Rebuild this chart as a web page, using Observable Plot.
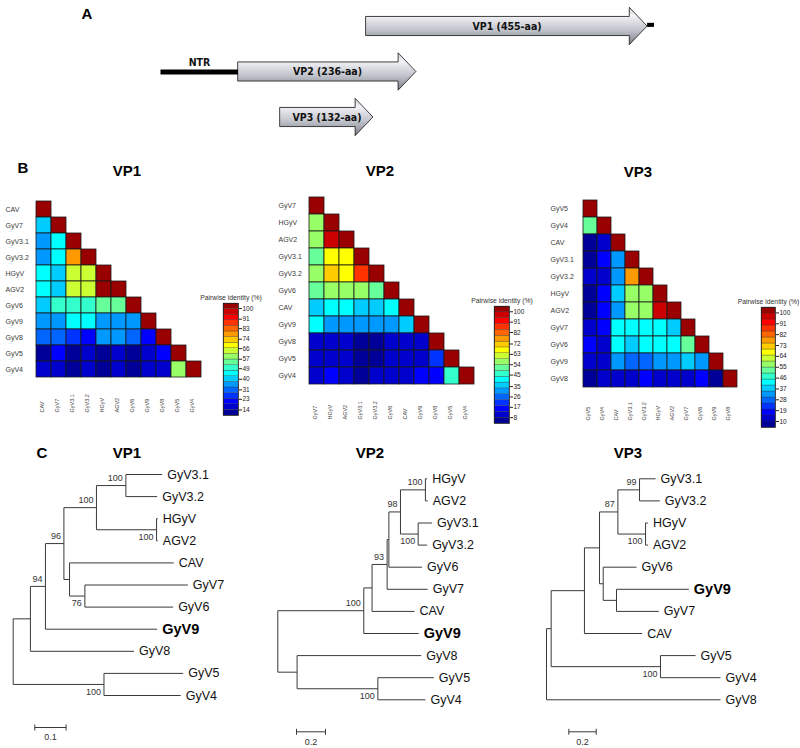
<!DOCTYPE html>
<html>
<head>
<meta charset="utf-8">
<script src="https://cdn.jsdelivr.net/npm/d3@7"></script>
<script src="https://cdn.jsdelivr.net/npm/@observablehq/plot@0.6"></script>
<style>
  body { margin: 0; background: #fff; }
  #fig { position: relative; width: 800px; height: 748px; overflow: hidden; background: #fff; }
</style>
</head>
<body>
<div id="fig"></div>
<script>
// ======================= DATA =======================
// ---- Panel A: genome schematic (schematic positions, 0..100)
const geneNames = ["VP1 (455-aa)", "VP2 (236-aa)", "VP3 (132-aa)"];
const geneStart = [41.7, 15.8, 24.3];
const geneEnd   = [98.6, 51.8, 43.1];
const geneTrack = [1, 2, 3];
const ntrLabel = "NTR";
const ntrSpan = [0, 15.8];       // non-translated region, on track 2
const vp1Tail = [98.6, 100];     // short terminal segment after VP1

// ---- Panel B: pairwise identity (%) lower triangles
const vp1Order = ["CAV", "GyV7", "GyV3.1", "GyV3.2", "HGyV", "AGV2", "GyV6", "GyV9", "GyV8", "GyV5", "GyV4"];
const vp1Identity = [
  [100],
  [40, 100],
  [36, 44, 100],
  [36, 45, 79, 100],
  [44, 42, 64, 64, 100],
  [44, 41, 64, 64, 100, 100],
  [42, 51, 48, 51, 54, 54, 100],
  [35, 35, 43, 43, 34, 34, 35, 100],
  [30, 29, 26, 22, 34, 34, 30, 22, 100],
  [11, 20, 11, 15, 12, 15, 12, 15, 21, 100],
  [15, 16, 12, 15, 12, 15, 12, 15, 17, 58, 100]
];
const vp1LegendTicks = [100, 91, 83, 74, 66, 57, 49, 40, 31, 23, 14];

const vp2Order = ["GyV7", "HGyV", "AGV2", "GyV3.1", "GyV3.2", "GyV6", "CAV", "GyV9", "GyV8", "GyV5", "GyV4"];
const vp2Identity = [
  [100],
  [56, 100],
  [57, 97, 100],
  [51, 67, 67, 100],
  [56, 72, 67, 87, 100],
  [50, 56, 56, 56, 49, 100],
  [37, 42, 41, 36, 36, 42, 100],
  [42, 31, 31, 30, 31, 33, 37, 100],
  [12, 10, 10, 7.5, 7.5, 10, 12, 9, 100],
  [11, 8.5, 10, 7.5, 6, 11, 11, 11, 20, 100],
  [10, 15, 12, 7.5, 12, 11, 12, 14, 14, 47, 100]
];
const vp2LegendTicks = [100, 91, 82, 72, 63, 54, 45, 35, 26, 17, 8];

const vp3Order = ["GyV5", "GyV4", "CAV", "GyV3.1", "GyV3.2", "HGyV", "AGV2", "GyV7", "GyV6", "GyV9", "GyV8"];
const vp3Identity = [
  [100],
  [51, 100],
  [9, 12, 100],
  [9, 16, 31, 100],
  [11, 14, 32, 77, 100],
  [9, 16, 37, 57, 57, 100],
  [9, 16, 32, 57, 57, 96, 100],
  [14, 16, 42, 43, 43, 43, 38, 100],
  [17, 12, 42, 38, 42, 41, 41, 51, 100],
  [14, 14, 31, 27, 26, 31, 31, 37, 34, 100],
  [9, 10.5, 12, 13, 15.5, 13, 13, 12, 17, 9, 100]
];
const vp3LegendTicks = [100, 91, 82, 73, 64, 55, 46, 37, 28, 19, 10];

// ---- Panel C: phylogenetic trees (preorder; parent; branch length; bootstrap)
const vp1TreeNodes   = ["root", "nU", "n94", "n96", "n100a", "n31", "GyV3.1", "GyV3.2", "nHA", "HGyV", "AGV2", "nC", "CAV", "n76", "GyV7", "GyV6", "GyV9", "GyV8", "n45", "GyV5", "GyV4"];
const vp1TreeParents = [null, "root", "nU", "n94", "n96", "n100a", "n31", "n31", "n100a", "nHA", "nHA", "n96", "nC", "nC", "n76", "n76", "n94", "nU", "root", "n45", "n45"];
const vp1TreeLengths = [0, 0.055, 0.048, 0.059, 0.104, 0.094, 0.116, 0.100, 0.192, 0.004, 0.004, 0.018, 0.333, 0.049, 0.329, 0.282, 0.357, 0.331, 0.290, 0.253, 0.245];
const vp1TreeSupport = ["", "", "94", "96", "100", "100", "", "", "100", "", "", "", "", "76", "", "", "", "", "100", "", ""];

const vp2TreeNodes   = ["root", "n100", "n305", "n93", "n6", "n98", "nHA", "HGyV", "AGV2", "nG3", "GyV3.1", "GyV3.2", "GyV6", "GyV7", "CAV", "GyV9", "nOut", "GyV8", "n54", "GyV5", "GyV4"];
const vp2TreeParents = [null, "root", "n100", "n305", "n93", "n6", "n98", "nHA", "nHA", "n98", "nG3", "nG3", "n6", "n93", "n305", "n100", "root", "nOut", "nOut", "n54", "n54"];
const vp2TreeLengths = [0, 0.593, 0.057, 0.104, 0.012, 0.080, 0.172, 0.012, 0.016, 0.122, 0.096, 0.062, 0.229, 0.280, 0.293, 0.379, 0.133, 0.856, 0.557, 0.386, 0.328];
const vp2TreeSupport = ["", "100", "", "93", "", "98", "100", "", "", "100", "", "", "", "", "", "", "", "", "100", "", ""];

const vp3TreeNodes   = ["root", "n62", "n162", "n207", "n262", "n327", "GyV3.1", "GyV3.2", "n345", "HGyV", "AGV2", "n218", "GyV6", "n258", "GyV9", "GyV7", "CAV", "n390", "GyV5", "GyV4", "GyV8"];
const vp3TreeParents = [null, "root", "n62", "n162", "n207", "n262", "n327", "n327", "n262", "n345", "n345", "n207", "n218", "n218", "n258", "n258", "n162", "n62", "n390", "n390", "root"];
const vp3TreeLengths = [0, 0.034, 0.243, 0.110, 0.134, 0.158, 0.117, 0.148, 0.202, 0.017, 0.017, 0.027, 0.243, 0.097, 0.528, 0.309, 0.421, 0.798, 0.256, 0.438, 1.270];
const vp3TreeSupport = ["", "", "", "", "87", "99", "", "", "100", "", "", "", "", "", "", "", "", "100", "", "", ""];

const treeScaleLengths = [0.1, 0.2, 0.2];
const highlightLeaf = "GyV9";

// ======================= HELPERS =======================
const FONT = "'Liberation Sans', Arial, Helvetica, sans-serif";
const NARROW = "'Liberation Sans Narrow', 'Arial Narrow', 'DejaVu Sans Condensed', sans-serif";
const fig = document.getElementById("fig");
const baseStyle = {fontFamily: FONT, background: "transparent", overflow: "visible"};

function place(node, left, top) {
  node.style.position = "absolute";
  node.style.left = left + "px";
  node.style.top = top + "px";
  fig.appendChild(node);
  return node;
}
function label(text, x, y, size) {
  const d = document.createElement("div");
  d.textContent = text;
  d.style.cssText = `position:absolute;left:${x}px;top:${y}px;transform:translate(-50%,-50%);` +
    `font-family:${FONT};font-weight:bold;font-size:${size}px;line-height:1;white-space:nowrap;color:#000;`;
  fig.appendChild(d);
}
function jet(t) {
  const c = v => Math.max(0, Math.min(1, v));
  const r = c(1.5 - Math.abs(4 * t - 3)), g = c(1.5 - Math.abs(4 * t - 2)), b = c(1.5 - Math.abs(4 * t - 1));
  return d3.rgb(r * 255, g * 255, b * 255).formatHex();
}
const NBINS = 20;
function binColor(v, lo, hi) {
  let k = Math.floor((v - lo) / (hi - lo) * NBINS);
  k = Math.max(0, Math.min(NBINS - 1, k));
  return jet((k + 0.5) / NBINS);
}

// ======================= PANEL A =======================
const HEAD = 3.6, BODY = 0.21, HEADW = 0.41;
const arrowPts = geneNames.flatMap((name, i) => {
  const s = geneStart[i], e = geneEnd[i], t = geneTrack[i];
  return [
    {name, x: s, lo: t - BODY, hi: t + BODY},
    {name, x: e - HEAD, lo: t - BODY, hi: t + BODY},
    {name, x: e - HEAD, lo: t - HEADW, hi: t + HEADW},
    {name, x: e, lo: t, hi: t}
  ];
});
const svgA = Plot.plot({
  width: 800, height: 145, margin: 0, style: baseStyle,
  x: {domain: [0, 100], range: [160, 654], axis: null},
  y: {domain: [1, 3], range: [26, 117], axis: null},
  marks: [
    Plot.link([ntrSpan], {x1: d => d[0], x2: d => d[1], y1: () => 2, y2: () => 2, stroke: "#000", strokeWidth: 5}),
    Plot.areaY(arrowPts, {x: "x", y1: "lo", y2: "hi", z: "name", fill: "url(#gradA)", stroke: "#111", strokeWidth: 0.8, curve: "linear"}),
    Plot.rect([vp1Tail], {x1: d => d[0], x2: d => d[1], y1: () => 0.93, y2: () => 1.02, fill: "#000"}),
    Plot.text(geneNames, {x: (d, i) => (geneStart[i] + geneEnd[i]) / 2, y: (d, i) => geneTrack[i], text: d => d,
      fontFamily: NARROW, fontWeight: "bold", fontSize: 10.5, fill: "#111"}),
    Plot.text([ntrLabel], {x: () => (ntrSpan[0] + ntrSpan[1]) / 2, y: () => 2, dy: -9, text: d => d,
      fontFamily: NARROW, fontWeight: "bold", fontSize: 10.5, fill: "#111"})
  ]
});
const defs = document.createElementNS("http://www.w3.org/2000/svg", "defs");
defs.innerHTML = '<linearGradient id="gradA" x1="0" y1="0" x2="0" y2="1">' +
  '<stop offset="0" stop-color="#cfd1d8"/><stop offset="0.22" stop-color="#f3f3f6"/>' +
  '<stop offset="0.6" stop-color="#c3c5cd"/><stop offset="1" stop-color="#7c7f89"/></linearGradient>';
svgA.insertBefore(defs, svgA.firstChild);
place(svgA, 0, 0);
label("A", 87, 13, 15);

// ======================= PANEL B =======================
function drawHeatmap(cfg) {
  const {order, identity, ticks, cellsLeft, cellsTop, cellW, cellH, colLabelBottom, box} = cfg;
  const n = order.length;
  const step = (ticks[0] - ticks[ticks.length - 1]) / (ticks.length - 1);
  const hi = ticks[0] + step / 2, lo = ticks[ticks.length - 1] - step * 0.55;
  const cells = identity.flatMap((row, i) => row.map((v, j) => ({row: order[i], col: order[j], v})));
  const gridW = n * cellW, gridH = n * cellH;
  const mL = 34, mT = 2, mR = 2;
  const labelDy = colLabelBottom - (cellsTop + gridH);
  const mB = labelDy + 4;
  const svg = Plot.plot({
    width: mL + gridW + mR, height: mT + gridH + mB,
    marginLeft: mL, marginTop: mT, marginRight: mR, marginBottom: mB,
    style: baseStyle,
    x: {type: "band", domain: order, padding: 0, axis: null},
    y: {type: "band", domain: order, padding: 0, axis: null},
    color: {type: "identity"},
    marks: [
      Plot.cell(cells, {x: "col", y: "row", fill: d => binColor(d.v, lo, hi), stroke: "#1b1b1b", strokeWidth: 0.8, inset: 0}),
      Plot.text(order, {y: d => d, text: d => d, frameAnchor: "left", dx: -31, textAnchor: "start", fontSize: 7, fill: "#3a3a3a"}),
      Plot.text(order, {x: d => d, text: d => d, frameAnchor: "bottom", dy: labelDy, rotate: -90, textAnchor: "start", fontSize: 5.5, fill: "#444"})
    ]
  });
  place(svg, cellsLeft - mL, cellsTop - mT);

  // colour key
  const bins = d3.range(NBINS).map(k => ({y1: lo + k * (hi - lo) / NBINS, y2: lo + (k + 1) * (hi - lo) / NBINS, c: jet((k + 0.5) / NBINS)}));
  const lmL = 32, lmR = 32, lmT = 16, lmB = 3;
  const bw = box.right - box.left, bh = box.bottom - box.top;
  const lsvg = Plot.plot({
    width: lmL + bw + lmR, height: lmT + bh + lmB,
    marginLeft: lmL, marginRight: lmR, marginTop: lmT, marginBottom: lmB,
    style: baseStyle,
    x: {domain: [0, 1], axis: null},
    y: {domain: [lo, hi], axis: null},
    color: {type: "identity"},
    marks: [
      Plot.rect(bins, {x1: () => 0, x2: () => 1, y1: "y1", y2: "y2", fill: "c", stroke: "#333", strokeWidth: 0.3}),
      Plot.frame({stroke: "#222", strokeWidth: 0.8}),
      Plot.axisY(ticks, {anchor: "right", tickSize: 3, tickPadding: 1, fontSize: 6.5, tickFormat: d => String(d), label: null, stroke: "#222", fill: "#222"}),
      Plot.text(["Pairwise identity (%)"], {frameAnchor: "top", dy: -8, text: d => d, fontSize: 6.8, fill: "#333"})
    ]
  });
  place(lsvg, box.left - lmL, box.top - lmT);
}

drawHeatmap({order: vp1Order, identity: vp1Identity, ticks: vp1LegendTicks,
  cellsLeft: 36, cellsTop: 199, cellW: 15, cellH: 16.45, colLabelBottom: 412,
  box: {left: 223, right: 238, top: 303, bottom: 415}});
drawHeatmap({order: vp2Order, identity: vp2Identity, ticks: vp2LegendTicks,
  cellsLeft: 309, cellsTop: 197, cellW: 15, cellH: 17.07, colLabelBottom: 419,
  box: {left: 494, right: 509, top: 306, bottom: 423}});
drawHeatmap({order: vp3Order, identity: vp3Identity, ticks: vp3LegendTicks,
  cellsLeft: 581, cellsTop: 199, cellW: 14.4, cellH: 17.1, colLabelBottom: 420,
  box: {left: 761, right: 775, top: 307, bottom: 427}});
label("B", 23, 167, 15);
label("VP1", 127, 170, 15);
label("VP2", 380, 170, 15);
label("VP3", 638, 171, 15);

// ======================= PANEL C =======================
function drawTree(cfg) {
  const {nodes, parents, lengths, support, rootX, pxPerUnit, leafTop, leafStep, left, top, width, height, scaleLen, scaleStart} = cfg;
  const N = nodes.map((name, i) => ({name, parent: parents[i], len: lengths[i], support: support[i], children: []}));
  const byName = new Map(N.map(d => [d.name, d]));
  N.forEach(d => { if (d.parent) byName.get(d.parent).children.push(d); });
  N.forEach(d => { d.depth = d.parent ? byName.get(d.parent).depth + d.len : 0; });
  let leafIdx = 0;
  N.forEach(d => { if (!d.children.length) d.y = leafIdx++; });
  for (let i = N.length - 1; i >= 0; i--) {
    const d = N[i];
    if (d.children.length) d.y = (d.children[0].y + d.children[d.children.length - 1].y) / 2;
  }
  N.forEach(d => { if (d.parent) d.first = byName.get(d.parent).children[0] === d; });
  const nonRoot = N.filter(d => d.parent);
  const internal = N.filter(d => d.children.length);
  const leaves = N.filter(d => !d.children.length);
  const sbY = leaves.length - 1 + 32 / leafStep;
  const tickH = 3 / leafStep;
  const LINE = "#3a3a3a";
  const svg = Plot.plot({
    width, height, margin: 0, style: baseStyle,
    x: {domain: [0, 1], range: [rootX - left, rootX - left + pxPerUnit], axis: null},
    y: {domain: [0, 1], range: [leafTop - top, leafTop - top + leafStep], axis: null},
    marks: [
      Plot.link(nonRoot, {x1: d => byName.get(d.parent).depth, x2: "depth", y1: "y", y2: "y", stroke: LINE, strokeWidth: 1}),
      Plot.link(internal, {x1: "depth", x2: "depth", y1: d => d.children[0].y, y2: d => d.children[d.children.length - 1].y, stroke: LINE, strokeWidth: 1}),
      Plot.text(leaves.filter(d => d.name !== highlightLeaf), {x: "depth", y: "y", text: "name", dx: 5, textAnchor: "start", fontSize: 12.5, fill: "#111"}),
      Plot.text(leaves.filter(d => d.name === highlightLeaf), {x: "depth", y: "y", text: "name", dx: 5, textAnchor: "start", fontSize: 14.5, fontWeight: "bold", fill: "#000"}),
      Plot.text(internal.filter(d => d.support && d.first), {x: "depth", y: "y", text: "support", dx: -3, dy: -7.5, textAnchor: "end", fontSize: 9, fill: "#333"}),
      Plot.text(internal.filter(d => d.support && !d.first), {x: "depth", y: "y", text: "support", dx: -3, dy: 7.5, textAnchor: "end", fontSize: 9, fill: "#333"}),
      Plot.link([scaleLen], {x1: () => scaleStart, x2: d => scaleStart + d, y1: () => sbY, y2: () => sbY, stroke: LINE}),
      Plot.link([scaleStart, scaleStart + scaleLen], {x1: d => d, x2: d => d, y1: () => sbY - tickH, y2: () => sbY + tickH, stroke: LINE}),
      Plot.text([scaleLen], {x: d => scaleStart + d / 2, y: () => sbY, dy: 10, text: d => String(d), fontSize: 9, fill: "#333"})
    ]
  });
  place(svg, left, top);
}

drawTree({nodes: vp1TreeNodes, parents: vp1TreeParents, lengths: vp1TreeLengths, support: vp1TreeSupport,
  rootX: 12.7, pxPerUnit: 313, leafTop: 474, leafStep: 22.1, left: 0, top: 440, width: 265, height: 308,
  scaleLen: treeScaleLengths[0], scaleStart: 0.069});
drawTree({nodes: vp2TreeNodes, parents: vp2TreeParents, lengths: vp2TreeLengths, support: vp2TreeSupport,
  rootX: 277.3, pxPerUnit: 145, leafTop: 478.3, leafStep: 22.1, left: 265, top: 440, width: 265, height: 308,
  scaleLen: treeScaleLengths[1], scaleStart: 0.129});
drawTree({nodes: vp3TreeNodes, parents: vp3TreeParents, lengths: vp3TreeLengths, support: vp3TreeSupport,
  rootX: 546, pxPerUnit: 137, leafTop: 478.3, leafStep: 22.1, left: 530, top: 440, width: 270, height: 308,
  scaleLen: treeScaleLengths[2], scaleStart: 0.163});
label("C", 42, 452, 15);
label("VP1", 127, 452, 15);
label("VP2", 370, 452, 15);
label("VP3", 628, 452, 15);
</script>
</body>
</html>
